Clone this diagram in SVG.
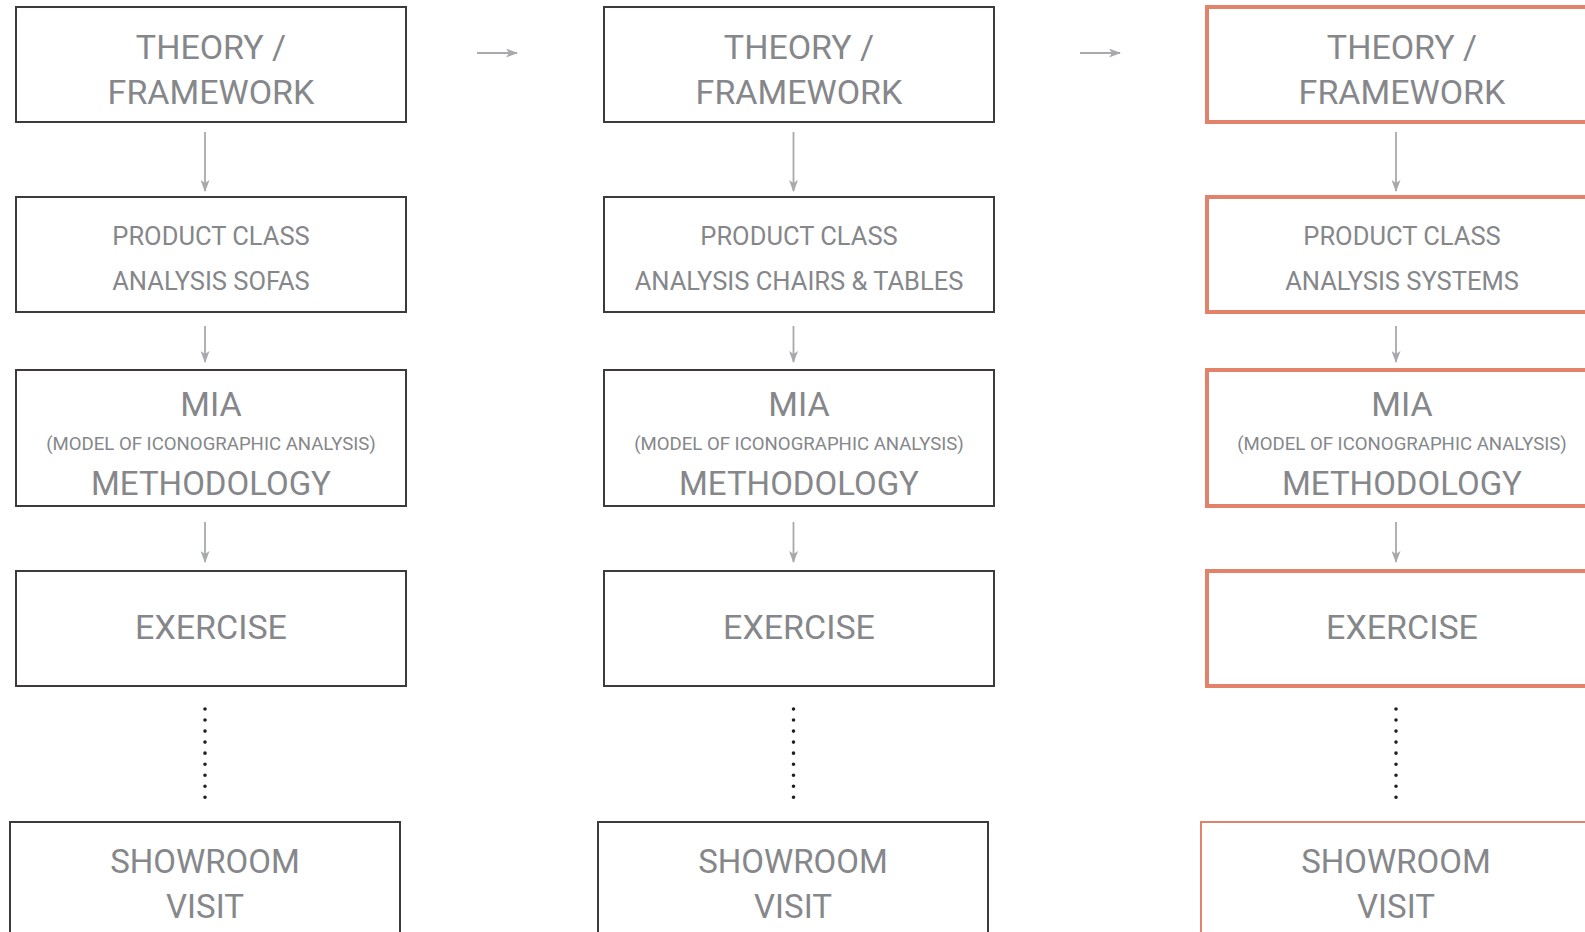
<svg xmlns="http://www.w3.org/2000/svg" width="1585" height="932" viewBox="0 0 1585 932">
<defs>
<style>
.box{fill:#fff;stroke:#3e3a39;stroke-width:2}
.obox{fill:#fff;stroke:#e3826a;stroke-width:4}
.obox2{fill:#fff;stroke:#e3826a;stroke-width:2}
text{font-family:Roboto,"Liberation Sans",sans-serif;font-weight:400;fill:#85878a;text-anchor:middle}
.t35{font-size:34px}
.t26{font-size:25.5px}
.t34{font-size:34px}
.t33{font-size:33px}
.t18{font-size:18.6px}
.arr{stroke:#a7a9ac;stroke-width:1.8;fill:none;marker-end:url(#ah)}
.dots{stroke:#231f20;stroke-width:3.6;stroke-linecap:round;stroke-dasharray:0 11.04;fill:none}
</style>
<marker id="ah" viewBox="0 0 12 9" refX="11" refY="4.5" markerWidth="12" markerHeight="9" markerUnits="userSpaceOnUse" orient="auto">
<path d="M0,0 L12,4.5 L0,9 L3,4.5 Z" fill="#a7a9ac"/>
</marker>
</defs>
<rect width="1585" height="932" fill="#fff"/>

<g id="connectors">
<line class="arr" x1="477" y1="53" x2="517" y2="53"/>
<line class="arr" x1="1080" y1="53" x2="1120" y2="53"/>
<line class="arr" x1="205" y1="132" x2="205" y2="191"/>
<line class="arr" x1="205" y1="326" x2="205" y2="362"/>
<line class="arr" x1="205" y1="522" x2="205" y2="562"/>
<line class="dots" x1="205" y1="709" x2="205" y2="798"/>
<line class="arr" x1="793.5" y1="132" x2="793.5" y2="191"/>
<line class="arr" x1="793.5" y1="326" x2="793.5" y2="362"/>
<line class="arr" x1="793.5" y1="522" x2="793.5" y2="562"/>
<line class="dots" x1="793.5" y1="709" x2="793.5" y2="798"/>
<line class="arr" x1="1396" y1="132" x2="1396" y2="191"/>
<line class="arr" x1="1396" y1="326" x2="1396" y2="362"/>
<line class="arr" x1="1396" y1="522" x2="1396" y2="562"/>
<line class="dots" x1="1396" y1="709" x2="1396" y2="798"/>
</g>

<g id="c1-theory"><rect class="box" x="16" y="7" width="390" height="115"/><text class="t35" x="211" y="59">THEORY /</text><text class="t35" x="211" y="104">FRAMEWORK</text></g>
<g id="c1-product"><rect class="box" x="16" y="197" width="390" height="115"/><text class="t26" x="211" y="245">PRODUCT CLASS</text><text class="t26" x="211" y="290">ANALYSIS SOFAS</text></g>
<g id="c1-mia"><rect class="box" x="16" y="370" width="390" height="136"/><text class="t34" x="211" y="416">MIA</text><text class="t18" x="211" y="450">(MODEL OF ICONOGRAPHIC ANALYSIS)</text><text class="t33" x="211" y="495">METHODOLOGY</text></g>
<g id="c1-exercise"><rect class="box" x="16" y="571" width="390" height="115"/><text class="t34" x="211" y="639">EXERCISE</text></g>
<g id="c1-showroom"><rect class="box" x="10" y="822" width="390" height="130"/><text class="t33" x="205" y="873">SHOWROOM</text><text class="t33" x="205" y="918">VISIT</text></g>

<g id="c2-theory"><rect class="box" x="604" y="7" width="390" height="115"/><text class="t35" x="799" y="59">THEORY /</text><text class="t35" x="799" y="104">FRAMEWORK</text></g>
<g id="c2-product"><rect class="box" x="604" y="197" width="390" height="115"/><text class="t26" x="799" y="245">PRODUCT CLASS</text><text class="t26" x="799" y="290">ANALYSIS CHAIRS &amp; TABLES</text></g>
<g id="c2-mia"><rect class="box" x="604" y="370" width="390" height="136"/><text class="t34" x="799" y="416">MIA</text><text class="t18" x="799" y="450">(MODEL OF ICONOGRAPHIC ANALYSIS)</text><text class="t33" x="799" y="495">METHODOLOGY</text></g>
<g id="c2-exercise"><rect class="box" x="604" y="571" width="390" height="115"/><text class="t34" x="799" y="639">EXERCISE</text></g>
<g id="c2-showroom"><rect class="box" x="598" y="822" width="390" height="130"/><text class="t33" x="793" y="873">SHOWROOM</text><text class="t33" x="793" y="918">VISIT</text></g>

<g id="c3-theory"><rect class="obox" x="1207" y="7" width="390" height="115"/><text class="t35" x="1402" y="59">THEORY /</text><text class="t35" x="1402" y="104">FRAMEWORK</text></g>
<g id="c3-product"><rect class="obox" x="1207" y="197" width="390" height="115"/><text class="t26" x="1402" y="245">PRODUCT CLASS</text><text class="t26" x="1402" y="290">ANALYSIS SYSTEMS</text></g>
<g id="c3-mia"><rect class="obox" x="1207" y="370" width="390" height="136"/><text class="t34" x="1402" y="416">MIA</text><text class="t18" x="1402" y="450">(MODEL OF ICONOGRAPHIC ANALYSIS)</text><text class="t33" x="1402" y="495">METHODOLOGY</text></g>
<g id="c3-exercise"><rect class="obox" x="1207" y="571" width="390" height="115"/><text class="t34" x="1402" y="639">EXERCISE</text></g>
<g id="c3-showroom"><rect class="obox2" x="1201" y="822" width="390" height="130"/><text class="t33" x="1396" y="873">SHOWROOM</text><text class="t33" x="1396" y="918">VISIT</text></g>
</svg>
